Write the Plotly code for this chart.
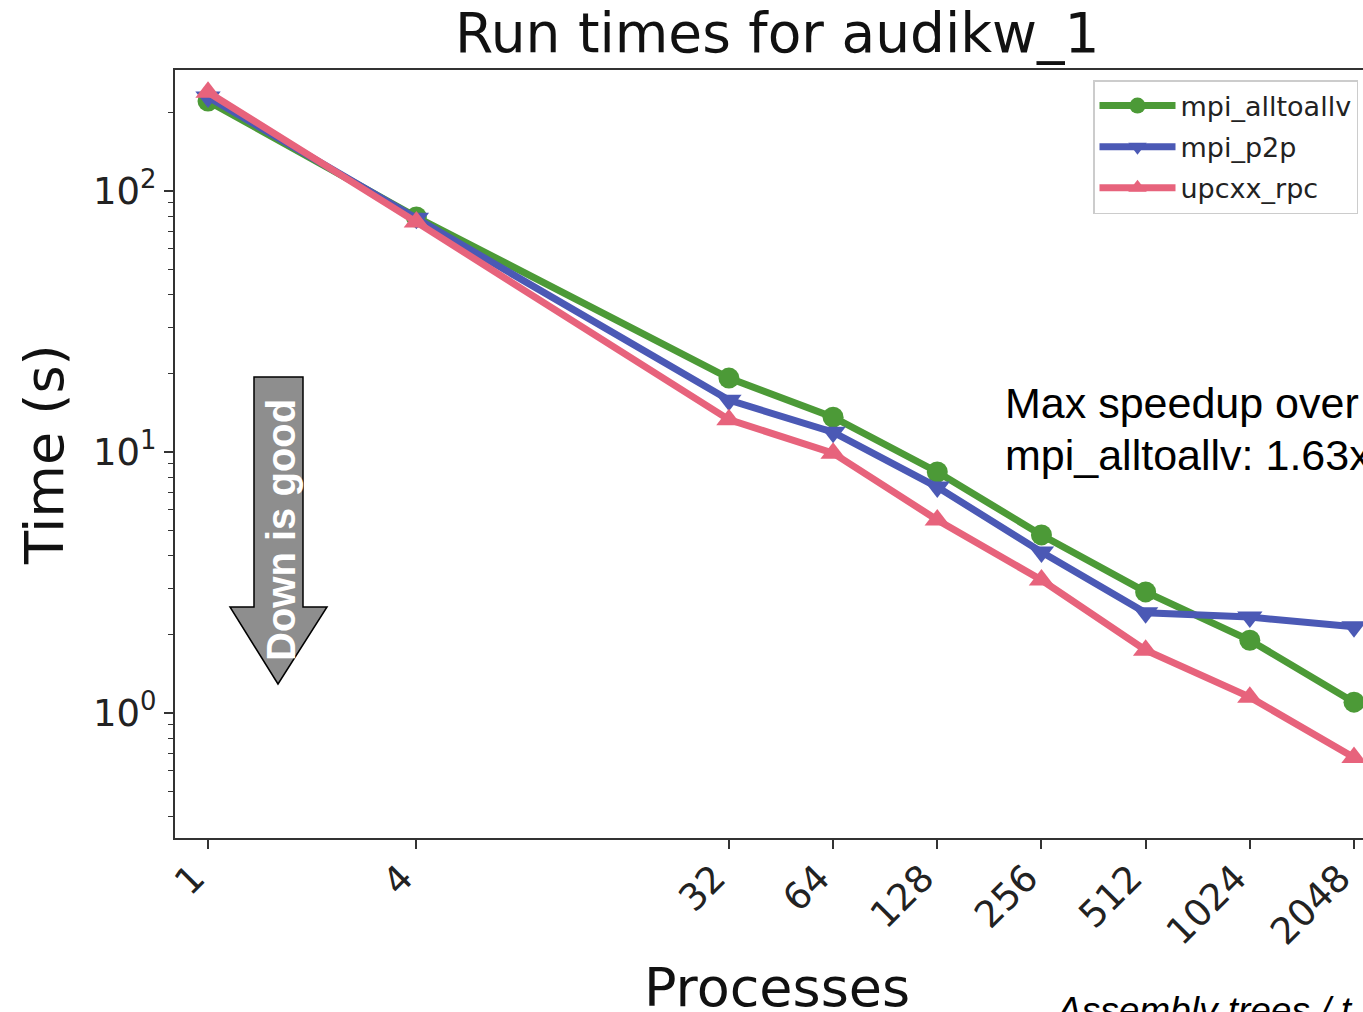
import plotly.graph_objects as go
import math

# ---- data ----
processes = [1, 4, 32, 64, 128, 256, 512, 1024, 2048]
tick_labels = ["1", "4", "32", "64", "128", "256", "512", "1024", "2048"]
mpi_alltoallv = [221, 79.5, 19.2, 13.6, 8.38, 4.81, 2.91, 1.90, 1.10]
mpi_p2p = [229, 78.6, 15.8, 11.9, 7.34, 4.14, 2.42, 2.33, 2.14]
upcxx_rpc = [239, 76.0, 13.3, 9.9, 5.49, 3.23, 1.74, 1.15, 0.675]
series_names = ["mpi_alltoallv", "mpi_p2p", "upcxx_rpc"]
y_tickvals = [1, 10, 100]
y_ticktext = ["10<sup>0</sup>", "10<sup>1</sup>", "10<sup>2</sup>"]

# ---- layout helpers (page pixel -> paper) ----
W, H = 1380, 1012
ML, MT = 175, 70
PLOT_R, PLOT_B = 1379, 838
MR, MB = W - PLOT_R, H - PLOT_B
PW, PH = W - ML - MR, H - MT - MB


def px(p):
    return (p - ML) / PW


def py(p):
    return (H - MB - p) / PH


colors = ["#4c9a37", "#4b59b5", "#e7637c"]
symbols = ["circle", "triangle-down", "triangle-up"]
sizes = [21, 22, 22]

fig = go.Figure()
for name, vals, c, s, sz in zip(series_names, [mpi_alltoallv, mpi_p2p, upcxx_rpc], colors, symbols, sizes):
    fig.add_trace(go.Scatter(
        x=processes, y=vals, name=name, mode="lines+markers",
        line=dict(color=c, width=7),
        marker=dict(color=c, symbol=s, size=sz, line=dict(width=0)),
        legendgroup=name,
    ))

font_main = "DejaVu Sans"
fig.update_layout(
    width=W, height=H,
    margin=dict(l=ML, r=MR, t=MT, b=MB, autoexpand=False),
    paper_bgcolor="white", plot_bgcolor="white",
    showlegend=True,
    legend=dict(x=px(1093), y=py(80), xanchor="left", yanchor="top",
                bgcolor="white", bordercolor="#cccccc", borderwidth=1.5,
                font=dict(family=font_main, size=27, color="#222222"),
                tracegroupgap=3, itemwidth=76),
    xaxis=dict(type="log",
               range=[math.log10(2 ** -0.317), math.log10(2 ** 11.24)],
               tickvals=processes, ticktext=[t + "\u00a0" for t in tick_labels], tickangle=-45,
               ticks="outside", ticklen=9, tickwidth=1.5, tickcolor="#333333",
               ticklabelstandoff=-16, ticklabelshift=-6,
               showline=True, linecolor="#333333", linewidth=2, mirror=True,
               showgrid=False, zeroline=False,
               tickfont=dict(family=font_main, size=37, color="#222222")),
    yaxis=dict(type="log", range=[-0.479, 2.4636],
               tickvals=y_tickvals, ticktext=y_ticktext,
               ticks="outside", ticklen=9, tickwidth=1.5, tickcolor="#333333",
               minor=dict(ticks="outside", ticklen=5, tickwidth=1, tickcolor="#333333",
                          dtick="D1", showgrid=False),
               showline=True, linecolor="#333333", linewidth=2, mirror=True,
               showgrid=False, zeroline=False,
               tickfont=dict(family=font_main, size=37, color="#222222")),
)

# arrow shape ("Down is good")
arrow_pts = [(254, 377), (303, 377), (303, 607), (327, 607), (278, 684),
             (230, 607), (254, 607)]
path = "M " + " L ".join(f"{px(a):.5f},{py(b):.5f}" for a, b in arrow_pts) + " Z"
fig.add_shape(type="path", path=path, xref="paper", yref="paper",
              fillcolor="#8e8e8e", line=dict(color="black", width=1.5), layer="above")

annos = [
    dict(text="Run times for audikw_1", x=px(777), y=py(33), xanchor="center", yanchor="middle",
         font=dict(family=font_main, size=55, color="#111111")),
    dict(text="Processes", x=px(777), y=py(987), xanchor="center", yanchor="middle",
         font=dict(family=font_main, size=54, color="#111111")),
    dict(text="Time (s)", x=px(45), y=py(455), xanchor="center", yanchor="middle", textangle=-90,
         font=dict(family=font_main, size=54, color="#111111")),
    dict(text="<b>Down is good</b>", x=px(281), y=py(530), xanchor="center", yanchor="middle",
         textangle=-90, font=dict(family="Liberation Sans", size=40, color="white")),
    dict(text="Max speedup over", x=px(1003), y=py(403), xanchor="left", yanchor="middle",
         font=dict(family="Liberation Sans", size=43, color="black")),
    dict(text="mpi_alltoallv: 1.63x", x=px(1003), y=py(455), xanchor="left", yanchor="middle",
         font=dict(family="Liberation Sans", size=43, color="black")),
    dict(text="<i>Assembly trees / t</i>", x=px(1053), y=py(1010), xanchor="left", yanchor="middle",
         font=dict(family="Liberation Sans", size=37, color="black")),
]
for a in annos:
    fig.add_annotation(xref="paper", yref="paper", showarrow=False, **a)

fig.write_html(
    "out.html",
    config={"displayModeBar": False},
    post_script=("document.body.style.margin='0';"
                 "document.body.style.overflow='hidden';"
                 "document.documentElement.style.overflow='hidden';"),
)
